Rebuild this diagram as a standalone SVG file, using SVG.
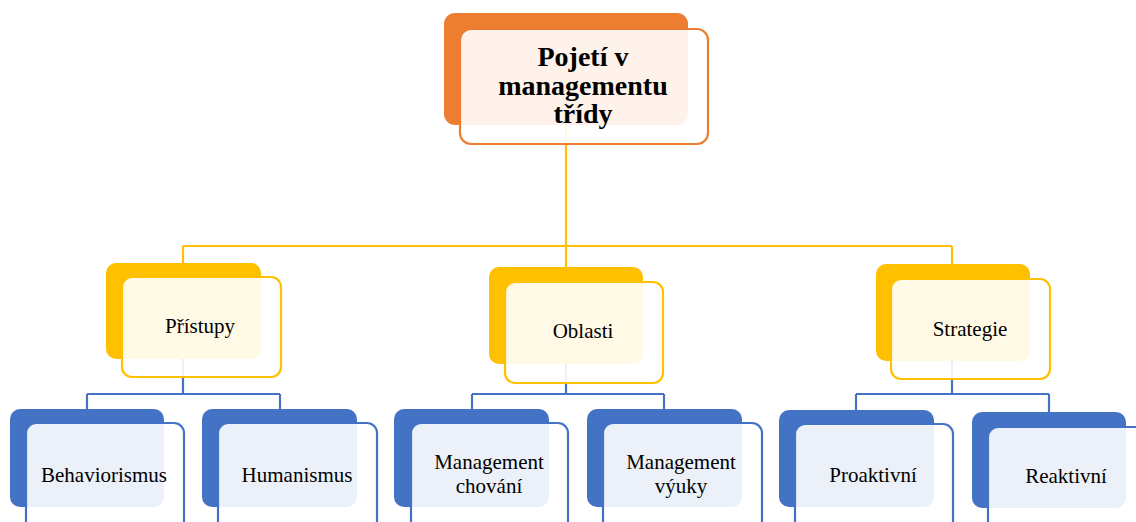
<svg xmlns="http://www.w3.org/2000/svg" width="1136" height="522" viewBox="0 0 1136 522">
<style>
.bg{fill:#fff}
.conY{fill:none;stroke:#FFC000;stroke-width:2.2}
.conB{fill:none;stroke:#4472C4;stroke-width:2.2}
.backO{fill:#ED7D31}
.backY{fill:#FFC000}
.backB{fill:#4472C4}
.front{fill:#fff;fill-opacity:0.9;stroke-width:2.2}
.fO{stroke:#ED7D31}
.fY{stroke:#FFC000}
.fB{stroke:#4472C4}
.t{font-family:"Liberation Serif","Times New Roman",serif;font-size:21px;fill:#000;text-anchor:middle}
.tb{font-family:"Liberation Serif","Times New Roman",serif;font-size:28px;font-weight:bold;fill:#000;text-anchor:middle}
</style>
<rect class="bg" x="0" y="0" width="1136" height="522"/>
<g id="connectors">
<path class="conY" d="M566 125 V246 M183 246 H952 M183 246 V263 M566 246 V267 M952 246 V264"/>
<path class="conB" d="M183 359 V394 M87 394 H280 M87 394 V409 M280 394 V409"/>
<path class="conB" d="M566 364 V394 M472 394 H664 M472 394 V409 M664 394 V409"/>
<path class="conB" d="M952 361 V394 M856 394 H1049 M856 394 V410 M1049 394 V412"/>
</g>
<g id="n-root">
<rect class="backO" x="444" y="13" width="244" height="112" rx="11"/>
<rect class="front fO" x="460" y="29" width="248" height="115" rx="11"/>
<text class="tb" x="583" y="66">Pojetí v</text>
<text class="tb" x="583" y="95">managementu</text>
<text class="tb" x="583" y="123">třídy</text>
</g>
<g id="n-pristupy">
<rect class="backY" x="106" y="263" width="155" height="96" rx="10"/>
<rect class="front fY" x="122" y="277" width="159" height="100" rx="10"/>
<text class="t" x="200" y="333">Přístupy</text>
</g>
<g id="n-oblasti">
<rect class="backY" x="489" y="267" width="154" height="97" rx="10"/>
<rect class="front fY" x="505" y="282" width="158" height="101" rx="10"/>
<text class="t" x="583" y="338">Oblasti</text>
</g>
<g id="n-strategie">
<rect class="backY" x="876" y="264" width="154" height="97" rx="10"/>
<rect class="front fY" x="891" y="279" width="159" height="100" rx="10"/>
<text class="t" x="970" y="336">Strategie</text>
</g>
<g id="n-behaviorismus">
<rect class="backB" x="10" y="409" width="154" height="98" rx="10"/>
<rect class="front fB" x="26" y="423" width="158" height="120" rx="10"/>
<text class="t" x="104" y="482">Behaviorismus</text>
</g>
<g id="n-humanismus">
<rect class="backB" x="202" y="409" width="155" height="98" rx="10"/>
<rect class="front fB" x="218" y="423" width="159" height="120" rx="10"/>
<text class="t" x="297" y="482">Humanismus</text>
</g>
<g id="n-mchovani">
<rect class="backB" x="394" y="409" width="155" height="98" rx="10"/>
<rect class="front fB" x="411" y="423" width="157" height="120" rx="10"/>
<text class="t" x="489" y="469">Management</text>
<text class="t" x="489" y="493">chování</text>
</g>
<g id="n-mvyuky">
<rect class="backB" x="587" y="409" width="155" height="98" rx="10"/>
<rect class="front fB" x="603" y="423" width="159" height="120" rx="10"/>
<text class="t" x="681" y="469">Management</text>
<text class="t" x="681" y="493">výuky</text>
</g>
<g id="n-proaktivni">
<rect class="backB" x="779" y="410" width="155" height="97" rx="10"/>
<rect class="front fB" x="795" y="424" width="158" height="120" rx="10"/>
<text class="t" x="873" y="482">Proaktivní</text>
</g>
<g id="n-reaktivni">
<rect class="backB" x="972" y="412" width="154" height="96" rx="10"/>
<rect class="front fB" x="988" y="427" width="160" height="120" rx="10"/>
<text class="t" x="1066" y="483">Reaktivní</text>
</g>
</svg>
